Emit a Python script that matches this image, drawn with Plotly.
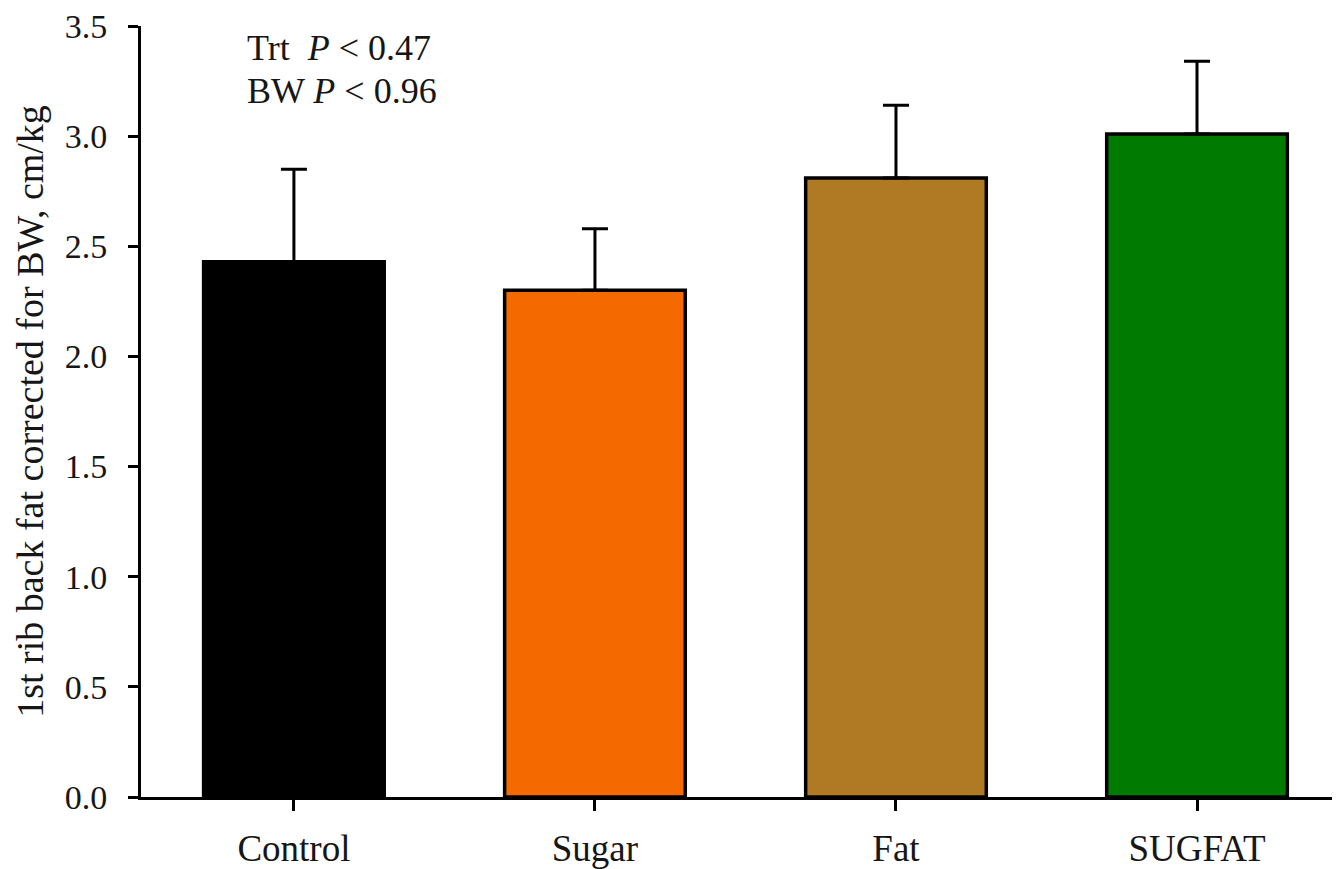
import plotly.graph_objects as go

categories = ["Control", "Sugar", "Fat", "SUGFAT"]
means = [2.43, 2.30, 2.81, 3.01]
sem = [0.42, 0.28, 0.33, 0.33]
colors = ["#000000", "#F46A00", "#B07A25", "#017A01"]
y_ticks = [0.0, 0.5, 1.0, 1.5, 2.0, 2.5, 3.0, 3.5]
stats_lines = ["Trt  <i>P</i> < 0.47", "BW <i>P</i> < 0.96"]

font_family = "Liberation Serif, Times New Roman, serif"
text_color = "#161616"

fig = go.Figure()
fig.add_trace(go.Bar(
    x=categories, y=means,
    marker=dict(color=colors, line=dict(color="#000000", width=3.5)),
    width=0.6,
    error_y=dict(type="data", array=sem, arrayminus=[0] * len(sem), symmetric=False,
                 color="#000000", thickness=3, width=13),
    showlegend=False,
))

for i, line in enumerate(stats_lines):
    fig.add_annotation(
        xref="paper", yref="paper", x=0.0865, y=1.0 - i * 0.0552,
        xanchor="left", yanchor="top",
        text=line, showarrow=False, align="left",
        font=dict(family=font_family, size=36, color=text_color),
    )

fig.update_layout(
    width=1332, height=861,
    margin=dict(l=133, r=0, t=18, b=63),
    paper_bgcolor="white", plot_bgcolor="white",
    font=dict(family=font_family, size=34, color=text_color),
)
fig.update_xaxes(
    range=[-0.508, 3.475], showline=True, linecolor="#000000", linewidth=3,
    ticks="outside", ticklen=11, tickwidth=3, tickcolor="#000000",
    showgrid=False, zeroline=False, ticklabelstandoff=6,
    tickfont=dict(family=font_family, size=37, color=text_color),
)
fig.update_yaxes(
    range=[0, 3.5], tickvals=y_ticks, ticktext=[f"{v:.1f}" for v in y_ticks],
    showline=True, linecolor="#000000", linewidth=3,
    ticks="outside", ticklen=10, tickwidth=3, tickcolor="#000000",
    showgrid=False, zeroline=False, ticklabelstandoff=14,
    ticklabeloverflow="allow",
    tickfont=dict(family=font_family, size=34, color=text_color),
    title=dict(text="1st rib back fat corrected for BW, cm/kg",
               font=dict(family=font_family, size=38, color=text_color), standoff=10),
)

fig.write_html("out.html")
